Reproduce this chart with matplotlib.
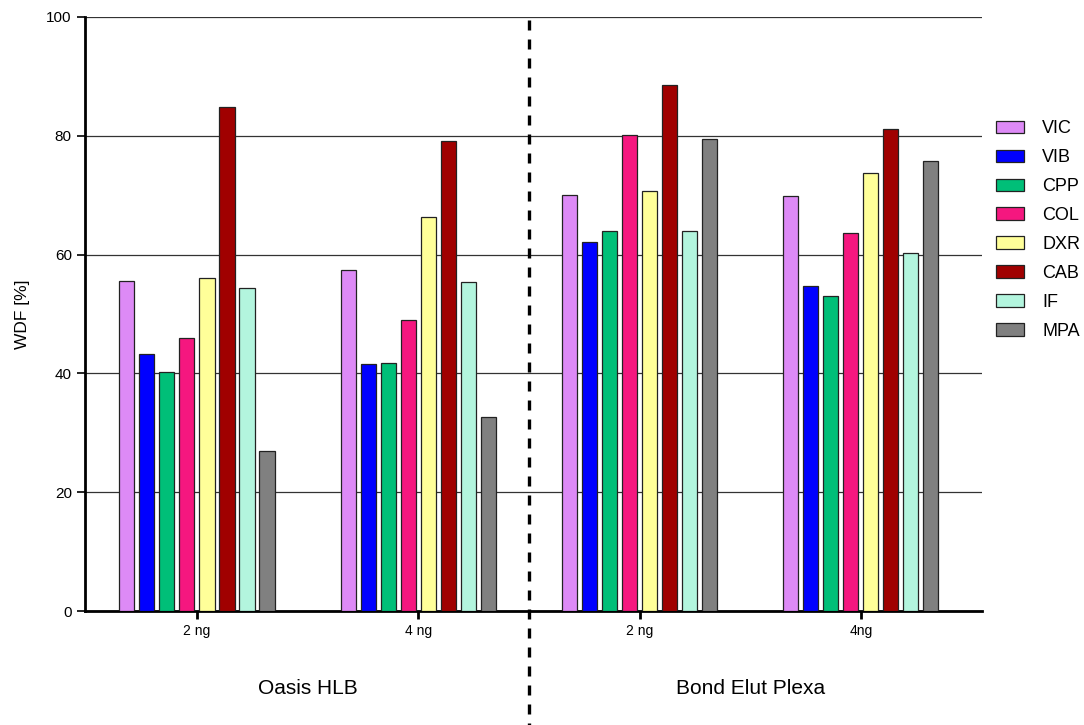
"""Grouped bar chart of WDF per analyte for two SPE sorbents at two spike levels."""

import matplotlib.pyplot as plt
import numpy as np
from matplotlib.patches import Patch

plt.rcParams["font.family"] = ["Liberation Sans", "DejaVu Sans"]

groups = ["2 ng", "4 ng", "2 ng", "4ng"]
sorbents = ["Oasis HLB", "Bond Elut Plexa"]
analytes = ["VIC", "VIB", "CPP", "COL", "DXR", "CAB", "IF", "MPA"]
colors = ["#DD8AF6", "#0000FF", "#00BF78", "#F5177F", "#FFFF99", "#A00000", "#B3F5DE", "#808080"]

# WDF [%] per analyte, one entry per group (HLB 2 ng, HLB 4 ng, Plexa 2 ng, Plexa 4 ng)
vic = [55.5, 57.4, 70.0, 69.8]
vib = [43.3, 41.6, 62.2, 54.7]
cpp = [40.2, 41.7, 64.0, 53.0]
col = [46.0, 49.0, 80.2, 63.6]
dxr = [56.0, 66.3, 70.7, 73.7]
cab = [84.9, 79.1, 88.6, 81.1]
if_ = [54.4, 55.4, 64.0, 60.3]
mpa = [27.0, 32.7, 79.5, 75.7]
values = [vic, vib, cpp, col, dxr, cab, if_, mpa]

fig = plt.figure(figsize=(10.84, 7.25), dpi=100)
ax = fig.add_axes([0.0784, 0.1572, 0.8275, 0.8194])

x = np.arange(len(groups))
step = 0.0904
width = 0.068
for i, (name, vals, c) in enumerate(zip(analytes, values, colors)):
    ax.bar(x + (i - 3.5) * step, vals, width=width, color=c,
           edgecolor="#222222", linewidth=0.9, zorder=3, label=name)

ax.set_xlim(-0.506, 3.547)
ax.set_ylim(0, 100)
ax.set_yticks(np.arange(0, 101, 20))
ax.yaxis.grid(True, color="#333333", linewidth=0.9, zorder=0)
ax.set_xticks(x)
ax.set_xticklabels(groups, fontsize=10)
ax.tick_params(axis="y", labelsize=11, length=6, width=1.2)
ax.tick_params(axis="x", length=6, width=2)
ax.set_ylabel("WDF [%]", fontsize=12.5, labelpad=12)

for side in ["top", "right"]:
    ax.spines[side].set_visible(False)
for side in ["left", "bottom"]:
    ax.spines[side].set_linewidth(2)

# sorbent separator and group captions
ax.plot([1.5, 1.5], [0.995, -0.2], transform=ax.get_xaxis_transform(),
        color="black", linestyle=(0, (3, 2.7)), linewidth=2.4, clip_on=False, zorder=4)
for j, name in enumerate(sorbents):
    ax.text(2 * j + 0.5, -0.131, name, transform=ax.get_xaxis_transform(),
            ha="center", va="center", fontsize=15)

handles = [Patch(facecolor=c, edgecolor="#222222", linewidth=0.9) for c in colors]
fig.legend(handles, analytes, loc="upper left", bbox_to_anchor=(0.9188, 0.834),
           frameon=False, fontsize=13, handlelength=1.55, handleheight=0.7,
           labelspacing=0.66, handletextpad=1.0, borderpad=0, borderaxespad=0)

fig.savefig("out.png", dpi=100)
